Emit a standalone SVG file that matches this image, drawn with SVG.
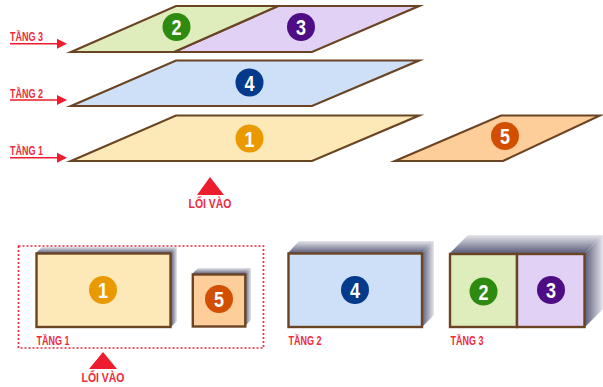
<svg xmlns="http://www.w3.org/2000/svg" width="603" height="387" viewBox="0 0 603 387">
<style>
.plan{stroke:#6b4423;stroke-width:2.200;stroke-linejoin:miter;stroke-miterlimit:10}
.flat{stroke:#6b4423;stroke-width:2.400;stroke-linejoin:miter}
.yel{fill:#fde9b8}.grn{fill:#dfedbd}.pur{fill:#e1d2f5}.blu{fill:#cde0f7}.org{fill:#fdce9a}
.num{font-family:"Liberation Sans",sans-serif;font-weight:700;font-size:22px;fill:#fff;text-anchor:middle}
.lab{font-family:"Liberation Sans",sans-serif;font-weight:700;font-size:12.500px;fill:#ee2a3c}
.red{fill:#ed1c2e}
</style>
<defs>
<linearGradient id="top" x1="0" y1="1" x2="0" y2="0"><stop offset="0" stop-color="#5c5f7c"/><stop offset="1" stop-color="#e6e6ec"/></linearGradient>
<linearGradient id="side" x1="0" y1="0" x2="1" y2="0"><stop offset="0" stop-color="#5c5f7c"/><stop offset="1" stop-color="#e6e6ec"/></linearGradient>
<path id="arrow" d="M0 -.8H47V-5L57 0L47 5V.8H0Z"/>
</defs>

<g id="connectors">
<use href="#arrow" class="red" x="10" y="43.700"/>
<use href="#arrow" class="red" x="10" y="100"/>
<use href="#arrow" class="red" x="10" y="157.700"/>
</g>

<g id="level3-plan">
<path class="plan pur" d="M174 52L278 6H419L312 52Z"/>
<path class="plan grn" d="M71 52L176 6H278L174 52Z"/>
<text class="lab" x="10" y="41" textLength="33" lengthAdjust="spacingAndGlyphs">TẦNG 3</text>
</g>
<g id="node-2"><circle cx="176.500" cy="27" r="14" fill="#2e8b0f"/><text class="num" x="176.500" y="35" textLength="10" lengthAdjust="spacingAndGlyphs">2</text></g>
<g id="node-3"><circle cx="301" cy="27" r="14" fill="#4f0d85"/><text class="num" x="301" y="35" textLength="10" lengthAdjust="spacingAndGlyphs">3</text></g>

<g id="level2-plan">
<path class="plan blu" d="M71 106L176 60.500H419L312 106Z"/>
<text class="lab" x="10" y="98" textLength="33" lengthAdjust="spacingAndGlyphs">TẦNG 2</text>
</g>
<g id="node-4"><circle cx="249.500" cy="82.500" r="14" fill="#043a8c"/><text class="num" x="249.500" y="90.500" textLength="10" lengthAdjust="spacingAndGlyphs">4</text></g>

<g id="level1-plan">
<path class="plan yel" d="M71 161L176 115.500H419L312 161Z"/>
<text class="lab" x="10" y="155" textLength="33" lengthAdjust="spacingAndGlyphs">TẦNG 1</text>
</g>
<g id="node-1"><circle cx="249.500" cy="138.500" r="14" fill="#ea9a00"/><text class="num" x="249.500" y="146.500" textLength="10" lengthAdjust="spacingAndGlyphs">1</text></g>

<g id="node-5-plan">
<path class="plan org" d="M395 161L501 115.500H600L503 161Z"/>
<circle cx="505" cy="136" r="14" fill="#d24f00"/><text class="num" x="505" y="144" textLength="10" lengthAdjust="spacingAndGlyphs">5</text>
</g>

<g id="entry-top">
<path class="red" d="M210 177L224 195H197Z"/>
<text class="lab" x="210" y="208" text-anchor="middle" textLength="43" lengthAdjust="spacingAndGlyphs">LỐI VÀO</text>
</g>

<rect id="level1-boundary" x="18.500" y="246" width="245" height="102" fill="none" stroke="#ee2a3c" stroke-width="1.700" stroke-dasharray="2 2"/>

<g id="plan-1">
<path fill="url(#top)" d="M36 253L42 247H177L171 253Z"/>
<path fill="url(#side)" d="M171 253L177 247V321L171 327Z"/>
<rect class="flat yel" x="36.500" y="253.500" width="134" height="73.500"/>
<circle cx="103" cy="290" r="14" fill="#ea9a00"/><text class="num" x="103" y="298" textLength="10" lengthAdjust="spacingAndGlyphs">1</text>
<text class="lab" x="36.500" y="345" textLength="33" lengthAdjust="spacingAndGlyphs">TẦNG 1</text>
</g>

<g id="plan-5">
<path fill="url(#top)" d="M192 274L198 268H251L245 274Z"/>
<path fill="url(#side)" d="M245 274L251 268V320L245 326Z"/>
<rect class="flat org" x="192.800" y="274.500" width="52.500" height="52"/>
<circle cx="219" cy="299" r="14" fill="#d24f00"/><text class="num" x="219" y="307" textLength="10" lengthAdjust="spacingAndGlyphs">5</text>
</g>

<g id="plan-4">
<path fill="url(#top)" d="M288 253L299 241H434L422 253Z"/>
<path fill="url(#side)" d="M422 253L434 241V315L422 327Z"/>
<rect class="flat blu" x="288.500" y="253.500" width="133.500" height="73.500"/>
<circle cx="355" cy="290" r="14" fill="#043a8c"/><text class="num" x="355" y="298" textLength="10" lengthAdjust="spacingAndGlyphs">4</text>
<text class="lab" x="288.500" y="345" textLength="33" lengthAdjust="spacingAndGlyphs">TẦNG 2</text>
</g>

<g id="plan-2-3">
<path fill="url(#top)" d="M450 253L468 235H603L585 253Z"/>
<path fill="url(#side)" d="M585 253L603 235V309L585 327Z"/>
<rect class="flat grn" x="450" y="254" width="67" height="73"/>
<rect class="flat pur" x="517" y="254" width="67.500" height="73"/>
<circle cx="483.500" cy="291.500" r="14" fill="#2e8b0f"/><text class="num" x="483.500" y="299.500" textLength="10" lengthAdjust="spacingAndGlyphs">2</text>
<circle cx="551" cy="290" r="14" fill="#4f0d85"/><text class="num" x="551" y="298" textLength="10" lengthAdjust="spacingAndGlyphs">3</text>
<text class="lab" x="450.500" y="345" textLength="33" lengthAdjust="spacingAndGlyphs">TẦNG 3</text>
</g>

<g id="entry-bottom">
<path class="red" d="M103 352L117 369H89Z"/>
<text class="lab" x="103" y="382" text-anchor="middle" textLength="43" lengthAdjust="spacingAndGlyphs">LỐI VÀO</text>
</g>
</svg>
